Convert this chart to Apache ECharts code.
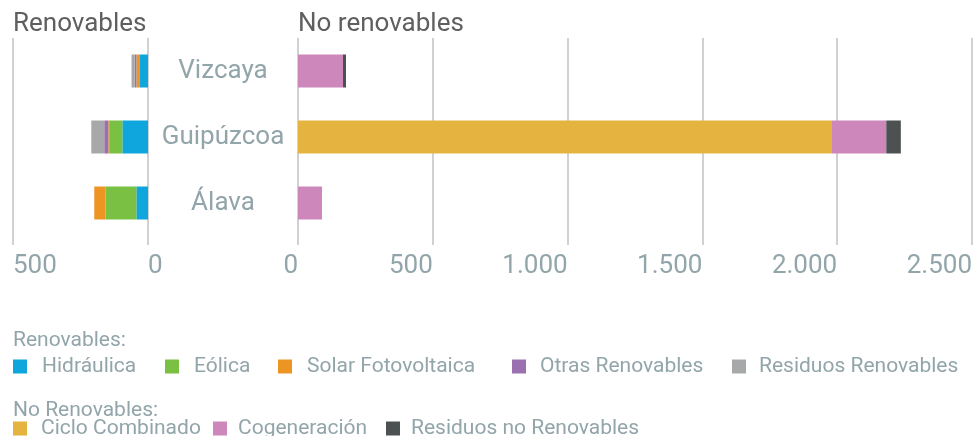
<!DOCTYPE html>
<html>
<head>
<meta charset="utf-8">
<script src="https://cdn.jsdelivr.net/npm/echarts@6/dist/echarts.min.js"></script>
<style>
html,body{margin:0;padding:0;background:#fff;}
#main{width:975px;height:436px;}
</style>
</head>
<body>
<div id="main"></div>
<script>
// ---- data ----
const categories = ['Vizcaya', 'Guipúzcoa', 'Álava'];
const hidraulica = [32, 95, 43];
const eolica = [0, 46, 114];
const solarFV = [11, 6, 42];
const otrasRenovables = [6, 15, 0];
const residuosRenovables = [12, 48, 0];
const cicloCombinado = [0, 1978, 0];
const cogeneracion = [167, 204, 89];
const residuosNoRenovables = [11, 54, 0];
const leftTicks = [0, 500];
const rightTicks = [0, 500, 1000, 1500, 2000, 2500];

const FONT = 'Roboto, "Noto Sans", sans-serif';
const LABEL_COLOR = '#92a5aa';
const GRID_COLOR = '#c2c2c2';

function fmt(v) { return String(v).replace(/\B(?=(\d{3})+(?!\d))/g, '.'); }

const colors = {
  'Hidráulica': '#0ea6dc',
  'Eólica': '#7ac143',
  'Solar Fotovoltaica': '#ec9523',
  'Otras Renovables': '#9a70b1',
  'Residuos Renovables': '#a6a8a9',
  'Ciclo Combinado': '#e5b33f',
  'Cogeneración': '#ce87ba',
  'Residuos no Renovables': '#4c5152'
};

function bar(name, data, side) {
  return {
    name: name, type: 'bar', data: data,
    xAxisIndex: side, yAxisIndex: side,
    stack: side === 0 ? 'ren' : 'noren',
    barWidth: '50%',
    itemStyle: { color: colors[name] },
    emphasis: { disabled: true }
  };
}

function legendItem(name, left, top, pad) {
  return {
    data: [name], left: left, top: top, padding: 0,
    icon: 'rect', itemWidth: 14, itemHeight: 14, itemGap: 0,
    selectedMode: false,
    textStyle: { fontFamily: FONT, fontSize: 21, color: LABEL_COLOR, padding: [0, 0, 0, pad] }
  };
}

function valueAxis(gridIndex, max, inverse, align) {
  return {
    type: 'value', gridIndex: gridIndex, min: 0, max: max, interval: 500, inverse: inverse,
    axisLine: { show: false },
    axisTick: { show: true, length: 9, lineStyle: { color: GRID_COLOR, width: 1.5 } },
    splitLine: { show: true, lineStyle: { color: GRID_COLOR, width: 1.5 } },
    axisLabel: {
      margin: 17, align: align, fontFamily: FONT, fontSize: 26, color: LABEL_COLOR,
      formatter: fmt
    }
  };
}

const chart = echarts.init(document.getElementById('main'), null, { renderer: 'canvas' });
chart.setOption({
  animation: false,
  title: [
    { text: 'Renovables', left: 13, top: 11, padding: 0,
      textStyle: { fontFamily: FONT, fontSize: 26, fontWeight: 'normal', color: '#5f5f5f' } },
    { text: 'No renovables', left: 298, top: 11, padding: 0,
      textStyle: { fontFamily: FONT, fontSize: 26, fontWeight: 'normal', color: '#5f5f5f' } },
    { text: 'Renovables:', left: 13, top: 330, padding: 0,
      textStyle: { fontFamily: FONT, fontSize: 21, fontWeight: 'normal', color: LABEL_COLOR } },
    { text: 'No Renovables:', left: 13, top: 400, padding: 0,
      textStyle: { fontFamily: FONT, fontSize: 21, fontWeight: 'normal', color: LABEL_COLOR } }
  ],
  legend: [
    legendItem('Hidráulica', 13, 356, 10),
    legendItem('Eólica', 165, 356, 10),
    legendItem('Solar Fotovoltaica', 278, 356, 10),
    legendItem('Otras Renovables', 512, 356, 9),
    legendItem('Residuos Renovables', 732, 356, 8),
    legendItem('Ciclo Combinado', 13, 418, 9),
    legendItem('Cogeneración', 213, 418, 6),
    legendItem('Residuos no Renovables', 386, 418, 6)
  ],
  grid: [
    { left: 13, width: 135, top: 38, height: 198 },
    { left: 298, width: 676, top: 38, height: 198 }
  ],
  xAxis: [
    valueAxis(0, leftTicks[leftTicks.length - 1], true, 'left'),
    valueAxis(1, rightTicks[rightTicks.length - 1], false, 'right')
  ],
  yAxis: [
    { type: 'category', gridIndex: 0, data: categories, inverse: true,
      axisLine: { show: false }, axisTick: { show: false }, axisLabel: { show: false } },
    { type: 'category', gridIndex: 1, data: categories, inverse: true,
      axisLine: { show: false }, axisTick: { show: false },
      axisLabel: { margin: 75, align: 'center', fontFamily: FONT, fontSize: 26, color: LABEL_COLOR } }
  ],
  series: [
    bar('Hidráulica', hidraulica, 0),
    bar('Eólica', eolica, 0),
    bar('Solar Fotovoltaica', solarFV, 0),
    bar('Otras Renovables', otrasRenovables, 0),
    bar('Residuos Renovables', residuosRenovables, 0),
    bar('Ciclo Combinado', cicloCombinado, 1),
    bar('Cogeneración', cogeneracion, 1),
    bar('Residuos no Renovables', residuosNoRenovables, 1)
  ]
});
</script>
</body>
</html>
